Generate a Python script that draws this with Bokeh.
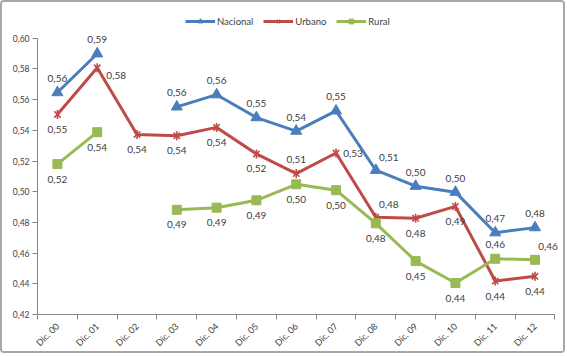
import math
from bokeh.plotting import figure
from bokeh.models import (ColumnDataSource, FixedTicker, Legend, LegendItem,
                          Range1d, CustomJSTickFormatter)
from bokeh.core.properties import value
from bokeh.embed import file_html
from bokeh.resources import INLINE

nan = float("nan")

categories = ["Dic. 00", "Dic. 01", "Dic. 02", "Dic. 03", "Dic. 04", "Dic. 05", "Dic. 06",
              "Dic. 07", "Dic. 08", "Dic. 09", "Dic. 10", "Dic. 11", "Dic. 12"]
nacional = [0.5646, 0.5899, nan, 0.5553, 0.5632, 0.5483, 0.5395, 0.5527, 0.5140, 0.5036,
            0.4997, 0.4733, 0.4766]
urbano = [0.5503, 0.5807, 0.5373, 0.5364, 0.5419, 0.5246, 0.5118, 0.5252, 0.4834, 0.4827,
          0.4904, 0.4418, 0.4449]
rural = [0.5180, 0.5388, nan, 0.4882, 0.4896, 0.4944, 0.5048, 0.5010, 0.4794, 0.4548,
         0.4405, 0.4563, 0.4556]
y_ticks = [0.42, 0.44, 0.46, 0.48, 0.50, 0.52, 0.54, 0.56, 0.58, 0.60]

# label placement (style)
nacional_pos = ["above"] * 8 + ["ar"] + ["above"] * 4
urbano_pos = ["below", "br", "below", "below", "below", "below", "above", "right", "ar",
              "below", "below", "below", "below"]
rural_pos = ["below"] * 11 + ["above", "ar"]
OFFS = {"above": (0, -14), "below": (0, 15), "right": (17, 0), "br": (19, 8), "ar": (13, -13)}

FONT = "Lato"
TXT = "#404040"
AX = "#868686"

xs = list(range(len(categories)))

p = figure(width=565, height=353, output_backend="svg", toolbar_location=None,
           x_range=Range1d(-0.5, 12.74),
           y_range=Range1d(y_ticks[0], 0.62),
           min_border_left=35, min_border_right=3, min_border_top=5, min_border_bottom=41)
p.outline_line_color = None
p.xgrid.visible = False
p.ygrid.visible = False
p.background_fill_color = "white"
p.border_fill_color = "white"

series = [("Nacional", nacional, "#4A7EBB", "triangle", 11, nacional_pos),
          ("Urbano", urbano, "#BE4B48", "x", 9, urbano_pos),
          ("Rural", rural, "#98B954", "square", 9, rural_pos)]

items = []
for name, vals, col, marker, size, pos in series:
    labels = ["" if math.isnan(v) else f"{v:.2f}".replace(".", ",") for v in vals]
    src = ColumnDataSource(dict(x=xs, y=vals, lab=labels,
                                dx=[OFFS[q][0] for q in pos], dy=[OFFS[q][1] for q in pos]))
    ln = p.line("x", "y", source=src, line_color=col, line_width=3)
    rs = [ln]
    if marker == "x":
        rs.append(p.scatter("x", "y", source=src, marker="x", size=size, line_color=col, line_width=1.6))
        rs.append(p.scatter("x", "y", source=src, marker="dash", angle=math.pi / 2, size=size,
                            line_color=col, line_width=1.6))
    else:
        rs.append(p.scatter("x", "y", source=src, marker=marker, size=size, fill_color=col, line_color=col))
    p.text("x", "y", text="lab", source=src, x_offset="dx", y_offset="dy",
           text_align="center", text_baseline="middle", text_font=value(FONT),
           text_font_size="10px", text_color=TXT)
    items.append(LegendItem(label=name, renderers=rs))

legend = Legend(items=items, orientation="horizontal", location=(148, 287),
                glyph_width=30, glyph_height=12, label_standoff=2, spacing=10,
                padding=0, margin=0, border_line_color=None, background_fill_alpha=0,
                label_text_font=FONT, label_text_font_size="9.5px", label_text_color=TXT)
p.add_layout(legend)

yax = p.yaxis[0]
yax.bounds = (y_ticks[0], y_ticks[-1])
yax.ticker = FixedTicker(ticks=y_ticks)
yax.formatter = CustomJSTickFormatter(code="return tick.toFixed(2).replace('.', ',');")
yax.axis_line_color = AX
yax.major_tick_line_color = AX
yax.major_tick_in = 0
yax.major_tick_out = 5
yax.minor_tick_line_color = None
yax.major_label_text_font = FONT
yax.major_label_text_font_size = "8.5px"
yax.major_label_text_color = TXT
yax.major_label_standoff = 3

xax = p.xaxis[0]
xax.bounds = (-0.5, len(categories) - 0.5)
xax.ticker = FixedTicker(ticks=xs, minor_ticks=[i - 0.5 for i in range(len(categories) + 1)])
xax.major_label_overrides = {i: c for i, c in enumerate(categories)}
xax.major_label_orientation = math.pi / 4
xax.axis_line_color = AX
xax.major_tick_line_color = None
xax.major_tick_out = 0
xax.major_tick_in = 0
xax.minor_tick_line_color = AX
xax.minor_tick_out = 5
xax.minor_tick_in = 0
xax.major_label_text_font = FONT
xax.major_label_text_font_size = "9px"
xax.major_label_text_color = TXT
xax.major_label_standoff = 5

p.styles = {"border": "2px solid #a8a8a8", "border-radius": "4px", "box-sizing": "border-box"}

open("out.html", "w").write(file_html(p, INLINE))
